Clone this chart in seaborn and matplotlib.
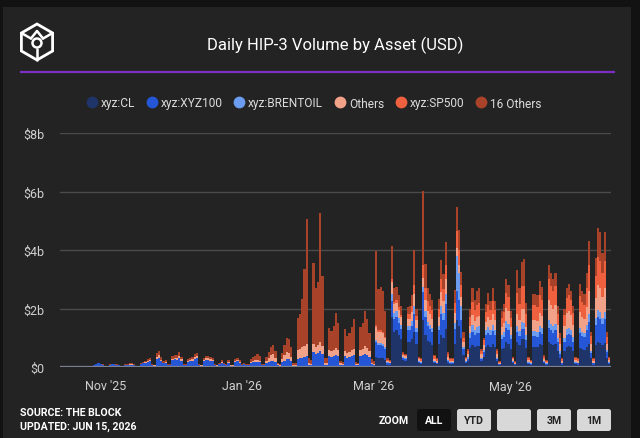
import numpy as np
import pandas as pd
import matplotlib
matplotlib.use("Agg")
import matplotlib.pyplot as plt
from matplotlib.lines import Line2D
from matplotlib.patches import Rectangle, FancyBboxPatch, Circle, Polygon
import seaborn as sns

# Daily volume in $ billions, one row per week (Mon..Sun), first day 2025-10-13
start_date = "2025-10-13"
xyz100 = [
    0.01, 0.02, 0.02, 0.02, 0.02, 0.01, 0.01,
    0.02, 0.03, 0.03, 0.04, 0.05, 0.02, 0.03,
    0.07, 0.09, 0.13, 0.10, 0.08, 0.03, 0.03,
    0.08, 0.09, 0.09, 0.08, 0.07, 0.02, 0.02,
    0.07, 0.07, 0.08, 0.08, 0.07, 0.02, 0.02,
    0.10, 0.12, 0.13, 0.17, 0.19, 0.07, 0.05,
    0.27, 0.30, 0.20, 0.12, 0.14, 0.06, 0.06,
    0.24, 0.26, 0.25, 0.30, 0.21, 0.07, 0.07,
    0.18, 0.20, 0.22, 0.28, 0.30, 0.07, 0.05,
    0.20, 0.25, 0.25, 0.22, 0.20, 0.07, 0.05,
    0.09, 0.15, 0.09, 0.07, 0.15, 0.05, 0.05,
    0.17, 0.19, 0.15, 0.07, 0.09, 0.07, 0.07,
    0.14, 0.16, 0.17, 0.18, 0.16, 0.06, 0.06,
    0.14, 0.18, 0.20, 0.21, 0.18, 0.06, 0.05,
    0.18, 0.22, 0.27, 0.26, 0.20, 0.05, 0.05,
    0.28, 0.30, 0.32, 0.35, 0.38, 0.07, 0.06,
    0.50, 0.45, 0.48, 0.55, 0.45, 0.08, 0.08,
    0.38, 0.35, 0.38, 0.42, 0.38, 0.08, 0.07,
    0.36, 0.32, 0.34, 0.38, 0.40, 0.07, 0.06,
    0.38, 0.40, 0.45, 0.42, 0.35, 0.09, 0.07,
    0.50, 0.45, 0.45, 0.42, 0.38, 0.07, 0.06,
    0.55, 0.45, 0.45, 0.40, 0.35, 0.06, 0.05,
    0.40, 0.40, 0.45, 0.60, 0.40, 0.04, 0.03,
    0.95, 0.60, 0.50, 0.45, 0.45, 0.04, 0.03,
    0.45, 0.70, 0.60, 0.85, 0.06, 0.03, 0.03,
    0.50, 1.00, 0.90, 0.60, 0.20, 0.04, 0.08,
    0.35, 0.45, 0.40, 0.45, 0.45, 0.07, 0.15,
    0.38, 0.42, 0.40, 0.45, 0.40, 0.07, 0.02,
    0.35, 0.38, 0.50, 0.48, 0.35, 0.04, 0.02,
    0.35, 0.30, 0.35, 0.34, 0.28, 0.04, 0.03,
    0.35, 0.35, 0.35, 0.40, 0.38, 0.05, 0.03,
    0.50, 0.45, 0.42, 0.45, 0.30, 0.15, 0.04,
    0.30, 0.40, 0.42, 0.40, 0.32, 0.04, 0.04,
    0.50, 0.45, 0.43, 0.55, 0.75, 0.18, 0.04,
    0.70, 0.85, 0.82, 0.72, 0.82, 0.20, 0.05,
]
others = [
    0.00, 0.00, 0.00, 0.00, 0.00, 0.00, 0.00,
    0.00, 0.00, 0.00, 0.00, 0.00, 0.00, 0.00,
    0.00, 0.00, 0.00, 0.00, 0.00, 0.00, 0.00,
    0.00, 0.00, 0.00, 0.00, 0.00, 0.00, 0.00,
    0.01, 0.01, 0.01, 0.01, 0.01, 0.00, 0.00,
    0.01, 0.02, 0.03, 0.04, 0.05, 0.01, 0.01,
    0.08, 0.10, 0.05, 0.03, 0.04, 0.02, 0.02,
    0.05, 0.06, 0.06, 0.08, 0.05, 0.01, 0.01,
    0.03, 0.04, 0.04, 0.06, 0.06, 0.01, 0.01,
    0.04, 0.05, 0.05, 0.04, 0.04, 0.01, 0.01,
    0.02, 0.03, 0.02, 0.01, 0.03, 0.01, 0.01,
    0.04, 0.04, 0.03, 0.01, 0.02, 0.01, 0.01,
    0.04, 0.05, 0.06, 0.07, 0.06, 0.02, 0.02,
    0.06, 0.13, 0.20, 0.22, 0.14, 0.03, 0.02,
    0.10, 0.18, 0.23, 0.22, 0.15, 0.03, 0.03,
    0.30, 0.32, 0.35, 0.38, 0.40, 0.05, 0.04,
    0.28, 0.25, 0.26, 0.30, 0.26, 0.05, 0.05,
    0.20, 0.18, 0.20, 0.22, 0.20, 0.04, 0.03,
    0.18, 0.16, 0.17, 0.20, 0.22, 0.03, 0.03,
    0.20, 0.22, 0.26, 0.24, 0.18, 0.05, 0.04,
    0.45, 0.40, 0.40, 0.38, 0.30, 0.05, 0.05,
    0.40, 0.30, 0.30, 0.28, 0.25, 0.06, 0.06,
    0.25, 0.25, 0.30, 0.40, 0.25, 0.07, 0.06,
    0.30, 0.40, 0.35, 0.35, 0.30, 0.10, 0.07,
    0.30, 0.45, 0.40, 0.50, 0.10, 0.06, 0.06,
    0.35, 0.28, 0.30, 0.30, 0.15, 0.07, 0.12,
    0.25, 0.35, 0.30, 0.33, 0.34, 0.12, 0.17,
    0.30, 0.35, 0.32, 0.38, 0.32, 0.12, 0.04,
    0.28, 0.32, 0.45, 0.42, 0.28, 0.07, 0.04,
    0.42, 0.36, 0.46, 0.46, 0.30, 0.08, 0.05,
    0.38, 0.38, 0.37, 0.45, 0.42, 0.08, 0.05,
    0.70, 0.65, 0.60, 0.65, 0.42, 0.25, 0.07,
    0.40, 0.55, 0.58, 0.52, 0.42, 0.08, 0.07,
    0.55, 0.50, 0.48, 0.60, 0.80, 0.25, 0.07,
    0.70, 0.85, 0.82, 0.72, 0.82, 0.22, 0.07,
]
others16 = [
    0.00, 0.00, 0.00, 0.00, 0.00, 0.00, 0.00,
    0.00, 0.00, 0.00, 0.00, 0.00, 0.00, 0.00,
    0.01, 0.01, 0.02, 0.01, 0.01, 0.00, 0.00,
    0.01, 0.01, 0.01, 0.01, 0.01, 0.00, 0.00,
    0.01, 0.02, 0.03, 0.03, 0.02, 0.01, 0.01,
    0.03, 0.03, 0.04, 0.06, 0.07, 0.02, 0.01,
    0.13, 0.15, 0.09, 0.05, 0.06, 0.02, 0.02,
    0.09, 0.09, 0.10, 0.13, 0.08, 0.02, 0.02,
    0.06, 0.07, 0.08, 0.11, 0.12, 0.02, 0.01,
    0.07, 0.08, 0.08, 0.08, 0.07, 0.02, 0.01,
    0.03, 0.06, 0.03, 0.02, 0.06, 0.01, 0.01,
    0.06, 0.08, 0.06, 0.02, 0.03, 0.02, 0.02,
    0.09, 0.13, 0.15, 0.20, 0.16, 0.02, 0.02,
    0.14, 0.20, 0.28, 0.32, 0.23, 0.05, 0.03,
    0.20, 0.35, 0.50, 0.48, 0.33, 0.06, 0.06,
    1.10, 1.20, 1.66, 2.63, 4.29, 0.18, 0.15,
    2.78, 2.00, 2.16, 4.42, 2.39, 0.17, 0.17,
    0.76, 0.70, 0.82, 1.21, 0.92, 0.08, 0.07,
    0.76, 0.58, 0.65, 0.79, 1.02, 0.07, 0.05,
    0.79, 0.88, 1.21, 0.98, 0.63, 0.13, 0.09,
    2.54, 1.41, 1.49, 1.39, 0.88, 0.07, 0.06,
    1.14, 0.47, 0.46, 0.43, 0.33, 0.06, 0.05,
    0.25, 0.30, 0.39, 1.20, 0.25, 0.04, 0.04,
    2.53, 0.83, 0.45, 0.40, 0.35, 0.04, 0.03,
    0.33, 0.66, 0.53, 0.78, 0.05, 0.03, 0.03,
    0.44, 0.83, 0.69, 0.45, 0.20, 0.04, 0.05,
    0.30, 0.48, 0.34, 0.48, 0.51, 0.06, 0.08,
    0.28, 0.41, 0.30, 0.44, 0.30, 0.06, 0.02,
    0.22, 0.28, 0.48, 0.42, 0.22, 0.04, 0.02,
    0.78, 0.56, 0.83, 0.92, 0.40, 0.04, 0.03,
    0.39, 0.39, 0.39, 0.50, 0.45, 0.05, 0.03,
    0.50, 0.42, 0.41, 0.42, 0.28, 0.15, 0.04,
    0.22, 0.35, 0.38, 0.32, 0.26, 0.04, 0.04,
    0.42, 0.39, 0.38, 0.50, 0.80, 0.15, 0.04,
    0.61, 1.01, 0.97, 0.69, 0.97, 0.16, 0.05,
]

# assets listed later, first day 2026-03-02
late_start = "2026-03-02"
cl = [
    0.35, 0.30, 0.30, 0.30, 0.25, 0.08, 0.06,
    1.70, 1.20, 1.25, 1.10, 0.95, 0.25, 0.22,
    0.85, 0.85, 0.95, 1.20, 0.80, 0.12, 0.10,
    1.60, 1.10, 0.90, 0.85, 0.75, 0.12, 0.10,
    0.80, 1.10, 1.00, 1.30, 0.15, 0.10, 0.10,
    0.80, 1.60, 1.40, 1.00, 0.40, 0.12, 0.20,
    0.65, 0.75, 0.70, 0.72, 0.72, 0.20, 0.35,
    0.70, 0.75, 0.70, 0.78, 0.70, 0.20, 0.07,
    0.60, 0.65, 0.85, 0.80, 0.60, 0.12, 0.07,
    0.85, 0.75, 0.95, 0.95, 0.65, 0.10, 0.08,
    0.70, 0.70, 0.68, 0.80, 0.75, 0.12, 0.08,
    0.85, 0.80, 0.75, 0.80, 0.55, 0.30, 0.08,
    0.55, 0.70, 0.72, 0.68, 0.55, 0.10, 0.08,
    0.65, 0.60, 0.58, 0.70, 0.80, 0.30, 0.08,
    0.75, 0.85, 0.82, 0.75, 0.82, 0.30, 0.10,
]
brentoil = [
    0.08, 0.06, 0.06, 0.06, 0.05, 0.02, 0.01,
    0.25, 0.20, 0.20, 0.18, 0.15, 0.04, 0.04,
    0.15, 0.15, 0.18, 0.30, 0.15, 0.03, 0.03,
    0.20, 0.20, 0.15, 0.15, 0.15, 0.03, 0.02,
    0.15, 0.30, 0.25, 0.35, 0.04, 0.03, 0.03,
    0.20, 1.20, 0.90, 0.50, 0.10, 0.03, 0.05,
    0.15, 0.22, 0.18, 0.20, 0.23, 0.05, 0.08,
    0.17, 0.20, 0.18, 0.20, 0.18, 0.05, 0.02,
    0.15, 0.17, 0.22, 0.20, 0.15, 0.03, 0.02,
    0.20, 0.18, 0.23, 0.23, 0.15, 0.03, 0.02,
    0.18, 0.18, 0.18, 0.20, 0.20, 0.03, 0.02,
    0.25, 0.23, 0.22, 0.23, 0.15, 0.08, 0.02,
    0.15, 0.20, 0.20, 0.18, 0.15, 0.03, 0.02,
    0.18, 0.16, 0.15, 0.20, 0.25, 0.07, 0.02,
    0.22, 0.25, 0.25, 0.22, 0.25, 0.07, 0.02,
]
sp500 = [
    0.05, 0.05, 0.05, 0.05, 0.04, 0.01, 0.01,
    0.10, 0.08, 0.08, 0.08, 0.07, 0.03, 0.03,
    0.15, 0.15, 0.20, 0.30, 0.15, 0.05, 0.04,
    0.45, 0.40, 0.35, 0.30, 0.30, 0.07, 0.05,
    0.30, 0.45, 0.40, 0.50, 0.10, 0.05, 0.05,
    0.35, 0.57, 0.50, 0.40, 0.15, 0.05, 0.10,
    0.30, 0.45, 0.38, 0.42, 0.45, 0.10, 0.17,
    0.33, 0.40, 0.36, 0.45, 0.36, 0.10, 0.03,
    0.30, 0.35, 0.50, 0.48, 0.30, 0.05, 0.03,
    0.70, 0.55, 0.78, 0.80, 0.42, 0.06, 0.04,
    0.50, 0.50, 0.48, 0.60, 0.55, 0.07, 0.04,
    0.70, 0.65, 0.60, 0.65, 0.40, 0.22, 0.05,
    0.38, 0.50, 0.55, 0.50, 0.40, 0.06, 0.05,
    0.55, 0.50, 0.48, 0.65, 0.90, 0.25, 0.05,
    0.75, 0.95, 0.92, 0.80, 0.92, 0.25, 0.06,
]

assets = ["xyz:CL", "xyz:XYZ100", "xyz:BRENTOIL", "Others", "xyz:SP500", "16 Others"]
colors = ["#1f3468", "#2456d6", "#6b9cf0", "#f3a28a", "#ee603e", "#a8432a"]
month_ticks = ["2025-11-01", "2026-01-01", "2026-03-01", "2026-05-01"]
month_labels = ["Nov '25", "Jan '26", "Mar '26", "May '26"]
y_ticks = [0, 2, 4, 6, 8]
y_labels = ["$0", "$2b", "$4b", "$6b", "$8b"]

# ---- build a long table
early = pd.DataFrame({"xyz:XYZ100": xyz100, "Others": others, "16 Others": others16},
                     index=pd.date_range(start_date, periods=len(xyz100), freq="D"))
late = pd.DataFrame({"xyz:CL": cl, "xyz:BRENTOIL": brentoil, "xyz:SP500": sp500},
                    index=pd.date_range(late_start, periods=len(cl), freq="D"))
wide = early.join(late).fillna(0.0)
origin = pd.Timestamp("2025-11-01")
wide["day"] = (wide.index - origin).days
df = wide.melt(id_vars="day", value_vars=assets, var_name="asset", value_name="volume")

sns.set_theme(style="dark")
plt.rcParams["font.family"] = ["Roboto", "DejaVu Sans"]

W, H = 640, 439
fig = plt.figure(figsize=(W / 100, H / 100), dpi=100, facecolor="#121212")

# background layer in pixel coordinates
bg = fig.add_axes([0, 0, 1, 1], zorder=0)
bg.set_xlim(0, W)
bg.set_ylim(H, 0)
bg.axis("off")
bg.add_patch(Rectangle((3, 8), 628, H - 8, facecolor="#232323", edgecolor="none"))
bg.plot([20, 615], [73, 73], color="#7d2fc4", lw=1.6, solid_capstyle="butt")

# logo
cx, cy, r = 37, 43, 18
ang = np.deg2rad([90, 150, 210, 270, 330, 30])
hx, hy = cx + r * np.cos(ang), cy - r * np.sin(ang)
bg.add_patch(Polygon(np.c_[hx, hy], closed=True, fill=False, ec="white", lw=2))
ri = 7
ix, iy = cx + ri * np.cos(ang), cy - ri * np.sin(ang)
for k in [1, 5, 3]:
    bg.plot([hx[k], ix[k]], [hy[k], iy[k]], color="white", lw=1.8)
bg.plot([ix[1], ix[0], ix[5]], [iy[1], iy[0] - 4, iy[5]], color="white", lw=1.8)
bg.add_patch(Circle((cx, cy + 1), 4.5, fill=False, ec="white", lw=1.8))

bg.text(335, 45, "Daily HIP-3 Volume by Asset (USD)", color="white", fontsize=12,
        ha="center", va="center")

# footer
bg.text(20, 413, "SOURCE: THE BLOCK", color="white", fontsize=7.6, fontweight="bold",
        ha="left", va="center")
bg.text(20, 427, "UPDATED: JUN 15, 2026", color="white", fontsize=7.6, fontweight="bold",
        ha="left", va="center")
bg.text(394, 421, "ZOOM", color="white", fontsize=7.6, fontweight="bold", ha="center", va="center")
buttons = [("ALL", 417), ("YTD", 457), ("", 497), ("3M", 537), ("1M", 577)]
for label, bx in buttons:
    active = label == "ALL"
    bg.add_patch(FancyBboxPatch((bx, 410), 34, 22, boxstyle="round,pad=0,rounding_size=2.5",
                                facecolor="#111111" if active else "#d8d8d8", edgecolor="none"))
    bg.text(bx + 17, 421.5, label, color="white" if active else "#222222", fontsize=7.6,
            fontweight="bold", ha="center", va="center")

# ---- chart (seaborn stacks the first hue level on top, so feed it reversed)
ax = fig.add_axes([60 / W, 1 - 368 / H, 551 / W, 234 / H], zorder=1)
ax.patch.set_alpha(0)
sns.histplot(data=df, x="day", weights="volume", hue="asset", hue_order=assets[::-1],
             multiple="stack", discrete=True, shrink=1.0, palette=colors[::-1],
             alpha=1, linewidth=0, edgecolor="none", legend=False, ax=ax)

ax.set_ylim(0, 8)
ax.set_xlim(-20.2, 225.8)
ax.set_yticks(y_ticks)
ax.set_yticklabels(y_labels)
ax.set_xticks([(pd.Timestamp(m) - origin).days for m in month_ticks])
ax.set_xticklabels(month_labels)
ax.set_xlabel("")
ax.set_ylabel("")
ax.grid(axis="y", color="#4b4b4b", lw=1)
ax.grid(axis="x", visible=False)
ax.set_axisbelow(True)
for s in ax.spines.values():
    s.set_visible(False)
ax.axhline(0, color="#7d8090", lw=1.6, zorder=5)
ax.tick_params(axis="y", length=0, pad=11, labelsize=9, labelcolor="#d0d0d0")
ax.tick_params(axis="x", length=0, pad=9, labelsize=9, labelcolor="#d0d0d0")

handles = [Line2D([0], [0], marker="o", ls="none", markersize=8.5, markerfacecolor=c,
                  markeredgecolor="none") for c in colors]
fig.legend(handles, assets, loc="center", bbox_to_anchor=(0.49, 1 - 104 / H), ncol=6,
           frameon=False, fontsize=8.6, labelcolor="#dcdcdc", handletextpad=0.25,
           columnspacing=0.9, handlelength=1.0)

fig.savefig("out.png", dpi=100, facecolor=fig.get_facecolor())
